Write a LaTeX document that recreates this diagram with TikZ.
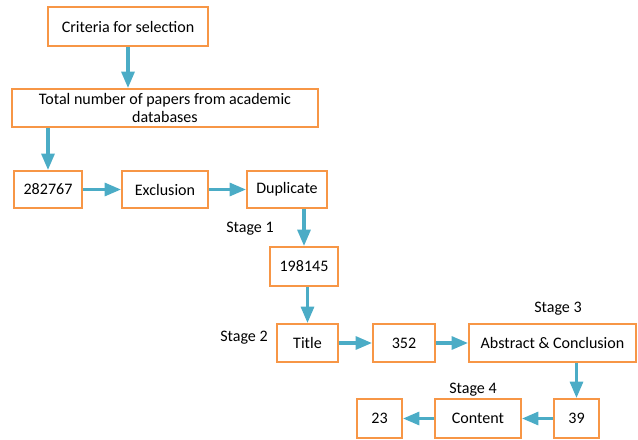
\documentclass[tikz,border=0pt]{standalone}
\usepackage{fontspec}
\setmainfont{Carlito}
\usetikzlibrary{arrows.meta}
\definecolor{boxorange}{HTML}{F79646}
\definecolor{flowblue}{HTML}{4BACC6}
\tikzset{
  box/.style={draw=boxorange, line width=1.6pt, fill=white, inner sep=0pt,
    minimum height=1.14cm, align=center, font=\fontsize{13.7}{15.5}\selectfont},
  flow/.style={draw=flowblue, line width=2.8pt, -{Triangle[length=14pt,width=11pt]}},
  stagelabel/.style={inner sep=0pt, font=\fontsize{13.7}{15.5}\selectfont}
}
\begin{document}
\begin{tikzpicture}[x=0.03cm, y=-0.03cm]
\useasboundingbox (0,0) rectangle (638,439);

% Boxes
\node[box, minimum width=4.8cm, minimum height=1.17cm] (crit) at (128,26.5) {Criteria for selection};
\node[box, minimum width=9.18cm] (total) at (165,108) {Total number of papers from academic\\databases};
\node[box, minimum width=2.04cm, minimum height=1.11cm] (n282) at (48,189.5) {282767};
\node[box, minimum width=2.58cm, minimum height=1.11cm] (excl) at (165,189.5) {Exclusion};
\node[box, minimum width=2.4cm, minimum height=1.11cm] (dup) at (287,189.5) {Duplicate};
\node[box, minimum width=2.04cm, minimum height=1.17cm] (n198) at (304,266.5) {198145};
\node[box, minimum width=1.83cm] (title) at (307.5,343) {Title};
\node[box, minimum width=1.86cm] (n352) at (404,343) {352};
\node[box, minimum width=5.01cm] (abs) at (552.5,343) {Abstract \& Conclusion};
\node[box, minimum width=1.35cm, minimum height=1.17cm] (n39) at (576.5,418.5) {39};
\node[box, minimum width=2.58cm, minimum height=1.17cm] (cont) at (478,418.5) {Content};
\node[box, minimum width=1.35cm, minimum height=1.17cm] (n23) at (379.5,418.5) {23};

% Stages
\node[stagelabel] (st1) at (250,229) {Stage 1};
\node[stagelabel] (st2) at (244,338) {Stage 2};
\node[stagelabel] (st3) at (558,309) {Stage 3};
\node[stagelabel] (st4) at (473,390) {Stage 4};

% Arrows
\draw[flow] (crit.south) -- (crit.south |- total.north);
\draw[flow] (n282.north |- total.south) -- (n282.north);
\draw[flow] (n282.east) -- (excl.west);
\draw[flow] (excl.east) -- (dup.west);
\draw[flow] (n198.north |- dup.south) -- (n198.north);
\draw[flow] (title.north |- n198.south) -- (title.north);
\draw[flow] (title.east) -- (n352.west);
\draw[flow] (n352.east) -- (abs.west);
\draw[flow] (n39.north |- abs.south) -- (n39.north);
\draw[flow] (n39.west) -- (cont.east);
\draw[flow] (cont.west) -- (n23.east);
\end{tikzpicture}
\end{document}
